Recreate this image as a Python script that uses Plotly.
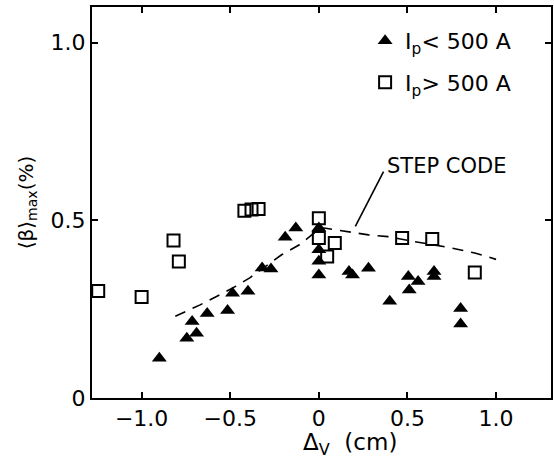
import plotly.graph_objects as go

# Discharges with plasma current below 500 A (filled triangles)
dv_low = [-0.90, -0.745, -0.69, -0.715, -0.63, -0.515, -0.487, -0.40,
          -0.32, -0.27, -0.19, -0.13,
          0.0, 0.0, 0.0, 0.0,
          0.17, 0.19, 0.28, 0.40, 0.505, 0.56, 0.51, 0.65, 0.65, 0.80, 0.80]
beta_low = [0.112, 0.168, 0.182, 0.215, 0.238, 0.246, 0.295, 0.300,
            0.366, 0.363, 0.452, 0.478,
            0.478, 0.417, 0.385, 0.346,
            0.356, 0.346, 0.365, 0.272, 0.342, 0.328, 0.304, 0.356, 0.342, 0.252, 0.208]

# Discharges with plasma current above 500 A (open squares)
dv_high = [-1.245, -1.00, -0.82, -0.79, -0.42, -0.38, -0.34,
           0.0, 0.0, 0.09, 0.047, 0.47, 0.64, 0.88]
beta_high = [0.301, 0.284, 0.443, 0.384, 0.527, 0.530, 0.532,
             0.506, 0.450, 0.436, 0.398, 0.450, 0.447, 0.353]

# STEP code prediction
dv_step = [-0.81, -0.67, -0.58, -0.47, -0.39, -0.21, -0.11, -0.04, 0.02,
           0.15, 0.28, 0.39, 0.505, 0.75, 0.88, 1.0]
beta_step = [0.230, 0.262, 0.285, 0.314, 0.338, 0.403, 0.431, 0.459, 0.479,
             0.470, 0.459, 0.454, 0.443, 0.422, 0.408, 0.390]

x_ticks = [-1.0, -0.5, 0.0, 0.5, 1.0]
x_labels = ["\u22121.0", "\u22120.5", "0", "0.5", "1.0"]
y_ticks = [0.0, 0.5, 1.0]
y_labels = ["0", "0.5", "1.0"]

FONT = "DejaVu Sans"

fig = go.Figure()

fig.add_trace(go.Scatter(
    x=dv_step, y=beta_step, mode="lines", showlegend=False,
    line=dict(color="black", width=1.6, dash="11px,8px"),
))

fig.add_trace(go.Scatter(
    x=dv_low, y=beta_low, mode="markers", name="I<sub>p</sub>< 500 A",
    legendgroup="low",
    marker=dict(symbol="triangle-up", size=13, color="black",
                line=dict(width=0)),
))

fig.add_trace(go.Scatter(
    x=dv_high, y=beta_high, mode="markers", name="I<sub>p</sub>> 500 A",
    legendgroup="high",
    marker=dict(symbol="square-open", size=12, color="black",
                line=dict(width=2, color="black")),
))

# leader line from the label to the STEP curve
fig.add_shape(type="line", xref="x", yref="y",
              x0=0.206, y0=0.483, x1=0.365, y1=0.637,
              line=dict(color="black", width=1.6))

fig.add_annotation(x=0.376, y=0.652, xref="x", yref="y", text="STEP CODE",
                   showarrow=False, xanchor="left", yanchor="middle",
                   font=dict(family=FONT, size=21, color="black"))

fig.add_annotation(x=0.562, y=-0.118, xref="paper", yref="paper",
                   text="\u0394<sub>V</sub>  (cm)", showarrow=False,
                   xanchor="center", yanchor="middle",
                   font=dict(family=FONT, size=23, color="black"))

axis_common = dict(
    showline=True, linecolor="black", linewidth=2, mirror="ticks",
    ticks="inside", ticklen=6, tickwidth=1.5, tickcolor="black",
    showgrid=False, zeroline=False,
    tickfont=dict(family=FONT, size=22, color="black"),
)

fig.update_xaxes(range=[-1.28, 1.31], tickvals=x_ticks, ticktext=x_labels,
                 **axis_common)
fig.update_yaxes(range=[0, 1.1], tickvals=y_ticks, ticktext=y_labels,
                 title=dict(text="\u27e8\u03b2\u27e9<sub>max</sub>(%)",
                            font=dict(family=FONT, size=20, color="black"),
                            standoff=12),
                 **axis_common)

fig.update_layout(
    width=554, height=462,
    margin=dict(l=92, r=1, t=7, b=64),
    paper_bgcolor="white", plot_bgcolor="white",
    font=dict(family=FONT, color="black"),
    legend=dict(x=0.595, y=0.967, xanchor="left", yanchor="top",
                font=dict(family=FONT, size=22, color="black"),
                tracegroupgap=10, bgcolor="rgba(0,0,0,0)"),
)

fig.write_html("out.html")
